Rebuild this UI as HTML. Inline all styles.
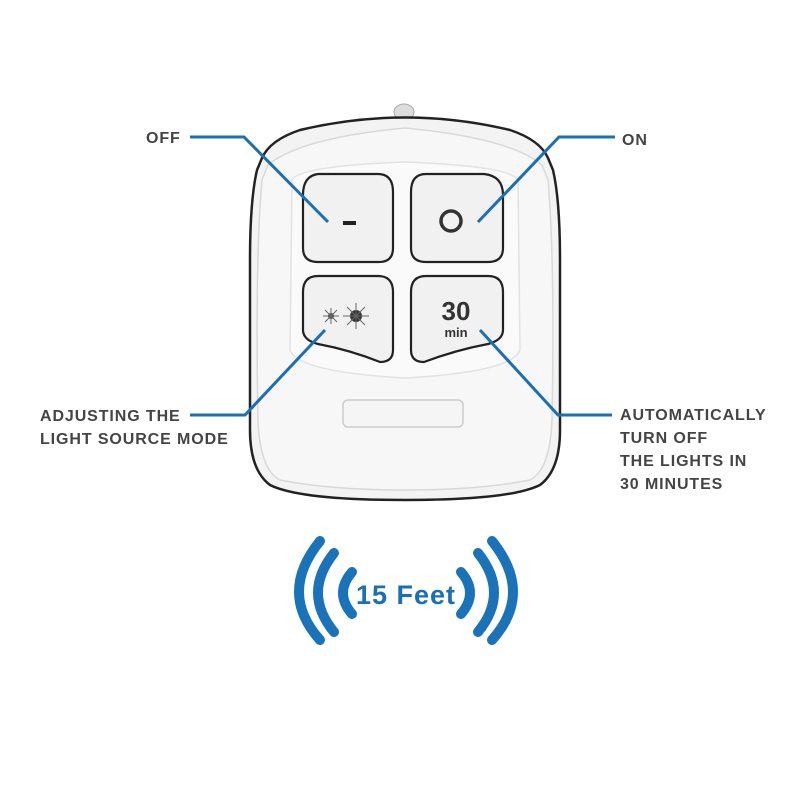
<!DOCTYPE html>
<html><head><style>
body{margin:0;background:#fff;}
svg{display:block}
text{font-family:"Liberation Sans",sans-serif;font-weight:bold;fill:#444;}
.l{font-size:16px;letter-spacing:0.9px}
</style></head><body>
<svg width="800" height="800" viewBox="0 0 800 800">
<ellipse cx="404" cy="112" rx="10" ry="8" fill="#ddd" stroke="#aaa" stroke-width="1"/>
<path d="M262,158 Q270,140 300,130 Q405,105 510,130 Q540,140 548,158 L553,170 Q560,200 560,260 L560,430 Q560,470 540,485 Q510,500 405,500 Q300,500 270,485 Q250,470 250,430 L250,260 Q250,200 257,170 Z" fill="#f3f3f3" stroke="#222" stroke-width="2.5"/>
<path d="M268,165 Q300,138 405,128 Q510,138 542,165 L548,180 Q555,260 552,420 Q550,470 530,480 Q480,490 405,490 Q330,490 280,480 Q260,470 258,420 Q255,260 262,180 Z" fill="#f7f7f7" stroke="#d8d8d8" stroke-width="1.5"/>
<path d="M292,180 Q300,166 405,162 Q510,166 518,180 L520,350 Q512,372 405,378 Q298,372 290,350 Z" fill="#fafafa" stroke="#e2e2e2" stroke-width="1.5"/>
<path d="M318,174 L378,174 Q393,174 393,192 L393,248 Q393,262 379,262 L318,262 Q303,262 303,248 L303,195 Q303,176 318,174 Z" fill="#f1f1f1" stroke="#222" stroke-width="2.2"/>
<path d="M426,174 L484,174 Q503,176 503,195 L503,248 Q503,262 488,262 L426,262 Q411,262 411,248 L411,192 Q411,174 426,174 Z" fill="#f1f1f1" stroke="#222" stroke-width="2.2"/>
<path d="M318,276 L378,276 Q393,276 393,292 L393,350 Q393,362 380,362 Q350,350 318,344 Q303,340 303,330 L303,292 Q303,276 318,276 Z" fill="#f1f1f1" stroke="#222" stroke-width="2.2"/>
<path d="M426,276 L488,276 Q503,276 503,292 L503,330 Q503,340 488,344 Q456,350 424,362 Q411,362 411,350 L411,292 Q411,276 426,276 Z" fill="#f1f1f1" stroke="#222" stroke-width="2.2"/>
<rect x="343" y="221" width="13" height="4" fill="#222"/>
<circle cx="451" cy="221" r="10" fill="none" stroke="#333" stroke-width="3.5"/>
<circle cx="331" cy="316" r="3" fill="#444"/>
<circle cx="356" cy="316" r="6" fill="#333"/>
<g stroke="#666" stroke-width="1">
<line x1="323" y1="316" x2="339" y2="316"/><line x1="331" y1="308" x2="331" y2="324"/><line x1="325" y1="310" x2="337" y2="322"/><line x1="337" y1="310" x2="325" y2="322"/>
<line x1="343" y1="316" x2="369" y2="316"/><line x1="356" y1="303" x2="356" y2="329"/><line x1="347" y1="307" x2="365" y2="325"/><line x1="365" y1="307" x2="347" y2="325"/>
</g>
<text x="456" y="320" font-size="26" text-anchor="middle" style="fill:#333">30</text>
<text x="456" y="337" font-size="13" text-anchor="middle" style="fill:#333">min</text>
<rect x="343" y="400" width="120" height="27" rx="5" fill="#f5f5f5" stroke="#ccc" stroke-width="1.5"/>
<g stroke="#1a6fb5" stroke-width="3" fill="none">
<polyline points="190,137 244,137 328,222"/>
<polyline points="615,137 559,137 478,222"/>
<polyline points="190,415 245,415 325,330"/>
<polyline points="612,415 558,415 480,330"/>
</g>
<text x="146" y="143" class="l">OFF</text>
<text x="622" y="145" class="l">ON</text>
<text x="40" y="421" class="l">ADJUSTING THE</text>
<text x="40" y="444" class="l">LIGHT SOURCE MODE</text>
<text x="620" y="420" class="l">AUTOMATICALLY</text>
<text x="620" y="443" class="l">TURN OFF</text>
<text x="620" y="466" class="l">THE LIGHTS IN</text>
<text x="620" y="489" class="l">30 MINUTES</text>
<g stroke="#1a72b9" stroke-width="10" fill="none" stroke-linecap="round">
<path d="M352,572 Q334,593 352,614"/>
<path d="M334,553 Q302,593 334,632"/>
<path d="M320,541 Q278,593 320,640"/>
<path d="M461,572 Q479,593 461,614"/>
<path d="M478,553 Q510,593 478,632"/>
<path d="M492,541 Q534,593 492,640"/>
</g>
<text x="406" y="604" font-size="27" text-anchor="middle" letter-spacing="1" style="fill:#1a6fb5">15 Feet</text>
</svg>
</body></html>
